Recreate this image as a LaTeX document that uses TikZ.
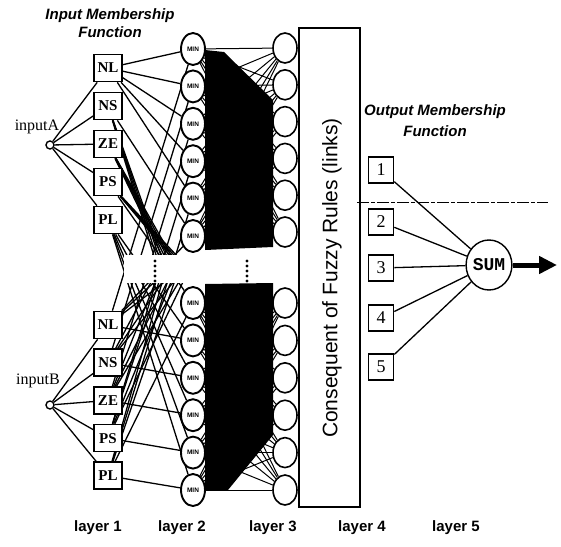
\documentclass[tikz,border=0pt]{standalone}
\usepackage{fontspec}
\setmainfont{Liberation Serif}
\setsansfont{Liberation Sans}
\setmonofont{Liberation Mono}
\usetikzlibrary{shapes.geometric,arrows.meta}
\pgfdeclarelayer{background}
\pgfsetlayers{background,main}
\begin{document}
\begin{tikzpicture}[x=1pt,y=-1pt,
  mf/.style={draw,line width=1.7pt,fill=white,minimum width=28pt,minimum height=27pt,inner sep=0pt,font=\bfseries\fontsize{15}{15}\selectfont},
  l2/.style={draw,ellipse,line width=1.9pt,fill=white,minimum width=24pt,minimum height=32pt,inner sep=0pt,font=\sffamily\bfseries\fontsize{6.5}{6.5}\selectfont},
  l3/.style={draw,ellipse,line width=1.6pt,fill=white,minimum width=24pt,minimum height=30pt,inner sep=0pt},
  outbox/.style={draw,line width=1.6pt,fill=white,minimum width=25pt,minimum height=26pt,inner sep=0pt,font=\fontsize{18}{18}\selectfont},
  inpt/.style={draw,circle,line width=1.4pt,fill=white,minimum size=8pt,inner sep=0pt},
  link/.style={line width=1.3pt},
  dense/.style={line width=1pt},
  titletext/.style={font=\sffamily\bfseries\itshape\fontsize{15}{18}\selectfont,align=center},
  layerlabel/.style={font=\sffamily\bfseries\fontsize{15}{15}\selectfont},
  inlabel/.style={font=\fontsize{16}{16}\selectfont},
]
\useasboundingbox (0,0) rectangle (561,546);

% titles
\node[titletext] (tin) at (110,23) {Input Membership\\Function};
\node[titletext,font=\sffamily\bfseries\itshape\fontsize{15}{21}\selectfont] (tout) at (435,121) {Output Membership\\Function};

% inputs
\node[inpt] (inA) at (50,145) {};
\node[inpt] (inB) at (50,405) {};
\node[inlabel] (labA) at (37,127) {inputA};
\node[inlabel] (labB) at (38,381) {inputB};

% layer 1
\foreach \n [count=\k from 0] in {NL,NS,ZE,PS,PL} {
  \node[mf] (ia\k) at (108,{68+38*\k}) {\n};
  \node[mf] (ib\k) at (108,{325+37.7*\k}) {\n};
}

% layer 2
\foreach \k in {0,...,5} {
  \node[l2] (r\k) at (193,{49+37.4*\k}) {MIN};
  \pgfmathtruncatemacro\m{19+\k}
  \node[l2] (r\m) at (193,{303+37.4*\k}) {MIN};
}
\foreach \k in {6,...,18} \coordinate (r\k) at ({158+(\k-6)*2.6},269);

% layer 3
\foreach \k in {0,...,5} {
  \node[l3] (u\k) at (285,{48+36.8*\k}) {};
  \node[l3] (v\k) at (285,{303+37.4*\k}) {};
}

% consequent box
\node[draw,line width=1.4pt,minimum width=61pt,minimum height=479pt,inner sep=0pt] (cons) at (329.5,267.5) {};
\node[rotate=90,font=\sffamily\fontsize{21}{21}\selectfont] (constext) at (332,278) {Consequent of Fuzzy Rules (links)};

% layer 4 and 5
\foreach \k/\yy in {1/170,2/222,3/268,4/318,5/367} \node[outbox] (o\k) at (381,\yy) {\k};
\node[draw,ellipse,line width=1.4pt,fill=white,minimum width=42pt,minimum height=50pt,inner sep=0pt,font=\ttfamily\bfseries\fontsize{18}{18}\selectfont] (sum) at (489,265) {SUM};
\coordinate (arrS) at (513,265);
\coordinate (arrE) at (557,265);
\draw[line width=5pt,-{Triangle[length=18pt,width=17pt]}] (arrS) -- (arrE);

\coordinate (dashA) at (357,202);
\coordinate (dashB) at (548,202);
\draw[line width=0.7pt,dash pattern=on 12pt off 2pt on 4pt off 2pt] (dashA) -- (dashB);

% dots
\foreach \yy in {261,266,...,281} {
  \fill (155,\yy) circle (1.7);
  \fill (247,\yy) circle (1.7);
}

% layer labels
\foreach \t/\xx in {1/98,2/182,3/273,4/362,5/456} \node[layerlabel] (lay\t) at (\xx,528) {layer \t};

\begin{pgfonlayer}{background}
  \fill (205,50) -- (224,52) -- (273,100) -- (273,247) -- (205,250) -- cycle;
  \fill (205,284) -- (273,283) -- (273,435) -- (228,490) -- (205,490) -- cycle;
  \foreach \i in {0,...,5} {
    \foreach \j in {0,...,5} {
      \pgfmathtruncatemacro\ii{19+\i}
      \draw[dense] (r\i) -- (u\j);
      \draw[dense] (r\ii) -- (v\j);
    }
  }
  \foreach \k in {0,...,4} {
    \draw[link] (inA) -- (ia\k);
    \draw[link] (inB) -- (ib\k);
  }
  \foreach \r in {0,...,24} {
    \pgfmathtruncatemacro\a{floor(\r/5)}
    \pgfmathtruncatemacro\b{mod(\r,5)}
    \draw[link] (ia\a) -- (r\r);
    \draw[link] (ib\b) -- (r\r);
  }
  \fill[white] (124,255) rectangle (204,283);
  \foreach \k in {1,...,5} \draw[link] (o\k) -- (sum);
\end{pgfonlayer}
\end{tikzpicture}
\end{document}
